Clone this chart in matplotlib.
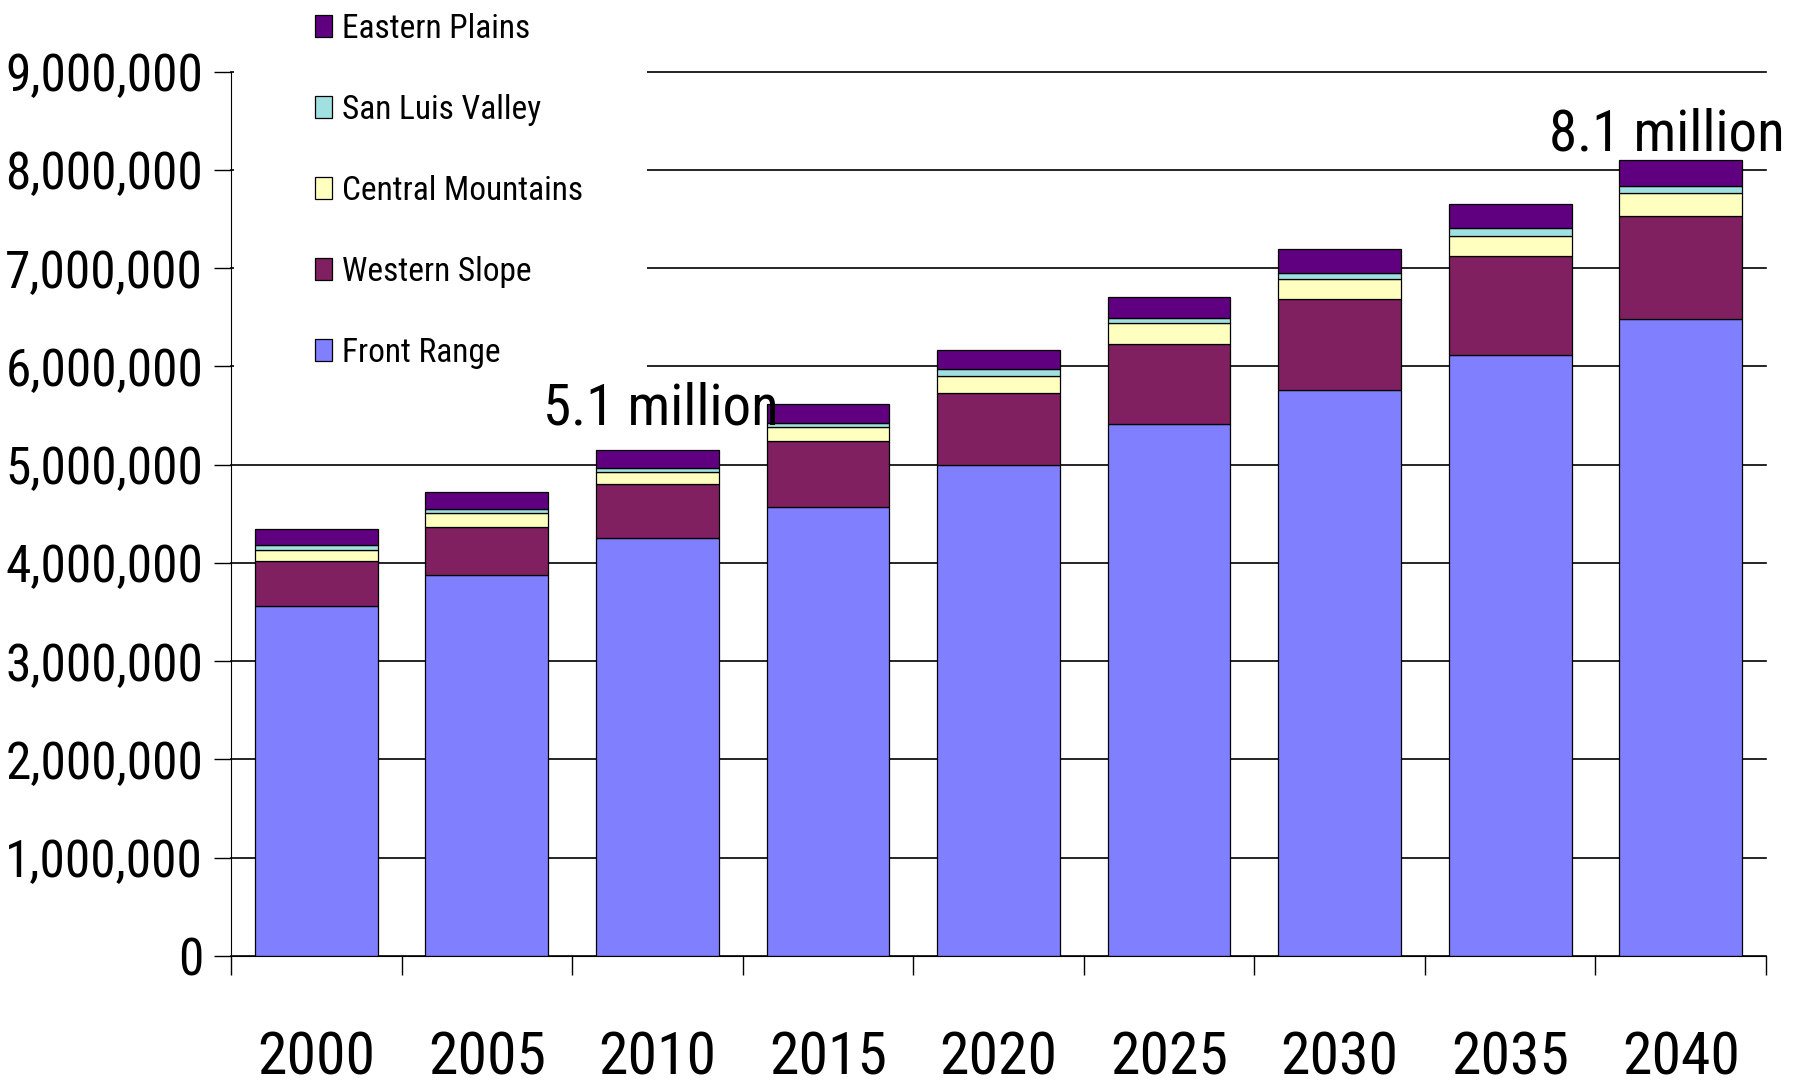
import matplotlib
matplotlib.use("Agg")
import matplotlib.pyplot as plt
import numpy as np
from matplotlib.patches import Rectangle
from matplotlib.ticker import FuncFormatter, FixedLocator

years = ["2000", "2005", "2010", "2015", "2020", "2025", "2030", "2035", "2040"]
regions = ["Front Range", "Western Slope", "Central Mountains", "San Luis Valley", "Eastern Plains"]
front_range = [3.56, 3.88, 4.25, 4.57, 5.00, 5.41, 5.76, 6.12, 6.48]
western_slope = [0.46, 0.49, 0.555, 0.67, 0.73, 0.82, 0.93, 1.00, 1.05]
central_mountains = [0.11, 0.135, 0.12, 0.14, 0.175, 0.21, 0.20, 0.21, 0.23]
san_luis_valley = [0.05, 0.046, 0.046, 0.04, 0.065, 0.048, 0.061, 0.079, 0.079]
eastern_plains = [0.17, 0.175, 0.18, 0.20, 0.20, 0.22, 0.24, 0.24, 0.26]
colors = ["#8080FF", "#802060", "#FFFFC0", "#A0E0E0", "#600080"]
yticks = [0, 1e6, 2e6, 3e6, 4e6, 5e6, 6e6, 7e6, 8e6, 9e6]
notes = [("5.1 million", 2.02, 5.405e6), ("8.1 million", 7.92, 8.20e6)]

plt.rcParams['font.family'] = ['Roboto Condensed', 'Liberation Sans', 'DejaVu Sans']

series = [front_range, western_slope, central_mountains, san_luis_valley, eastern_plains]

fig = plt.figure(figsize=(18.1, 10.85), dpi=100)
ax = fig.add_axes([231/1810, 1-956/1085, (1766-231)/1810, (956-71.6)/1085])

x = np.arange(len(years))
bottom = np.zeros(len(years))
bars = []
for name, vals, c in zip(regions, series, colors):
    v = np.array(vals) * 1e6
    b = ax.bar(x, v, width=0.72, bottom=bottom, color=c, edgecolor="black",
               linewidth=0.9, label=name, zorder=2)
    bars.append(b)
    bottom = bottom + v

ax.set_xlim(-0.5, len(years) - 0.5)
ax.set_ylim(0, 9e6)
ax.set_axisbelow(True)
ax.yaxis.grid(True, color="black", linewidth=1.2)

ax.set_yticks(yticks)
ax.yaxis.set_major_formatter(FuncFormatter(lambda v, p: "{:,.0f}".format(v)))
ax.tick_params(axis="y", length=12, width=1, pad=8, labelsize=37)
for gl in ax.yaxis.get_gridlines():
    gl.set_clip_on(False)

ax.xaxis.set_major_locator(FixedLocator(np.arange(-0.5, len(years), 1.0)))
ax.xaxis.set_major_formatter(FuncFormatter(lambda v, p: ""))
ax.xaxis.set_minor_locator(FixedLocator(x))
ax.set_xticklabels(years, minor=True)
ax.tick_params(axis="x", which="major", length=14, width=1)
ax.tick_params(axis="x", which="minor", length=0, pad=53, labelsize=43)

for s in ["top", "right"]:
    ax.spines[s].set_visible(False)
ax.spines["left"].set_zorder(3)

# white block behind the legend hides the gridlines there
ax.add_patch(Rectangle((234/1810, 1-405/1085), (647-234)/1810, 405/1085,
                       transform=fig.transFigure, facecolor="white",
                       edgecolor="none", zorder=1, clip_on=False))

for txt, tx, ty in notes:
    ax.text(tx, ty, txt, ha="center", va="baseline", fontsize=41, zorder=6, clip_on=False)

leg = fig.legend(handles=bars[::-1], labels=regions[::-1], loc="upper left",
                 bbox_to_anchor=(315/1810, 1-13/1085), frameon=False, fontsize=24,
                 handlelength=0.52, handleheight=0.62, handletextpad=0.3,
                 labelspacing=1.47, borderpad=0, borderaxespad=0)

plt.savefig("out.png", dpi=100)
